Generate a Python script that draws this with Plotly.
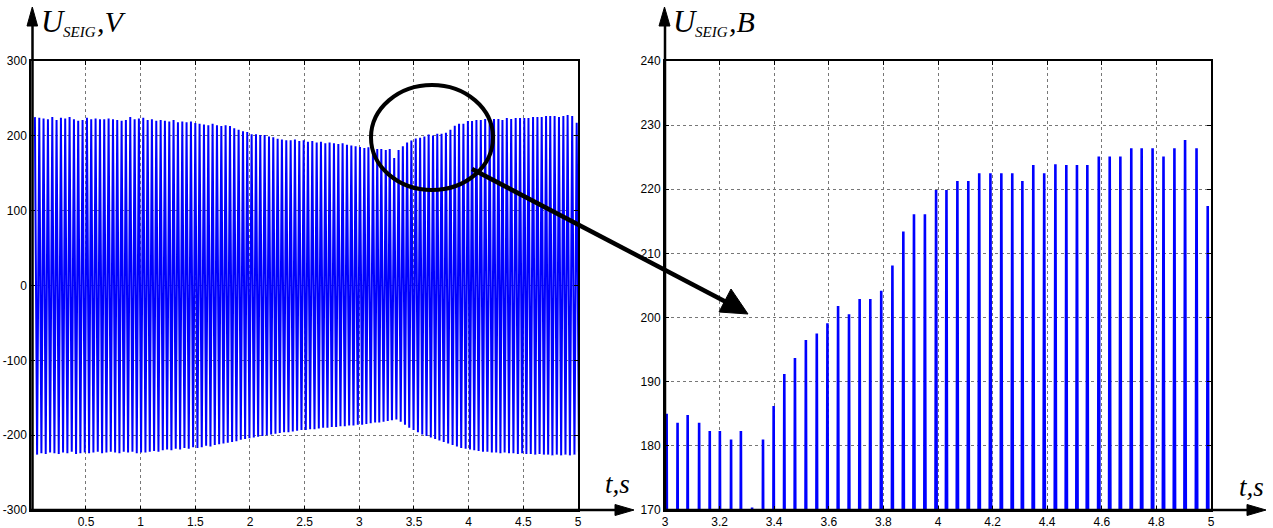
import plotly.graph_objects as go

# ---------------- data ----------------
# times of the positive peaks of U_SEIG (s)
peak_t = [
    0.033, 0.073, 0.112, 0.152, 0.192, 0.231, 0.271, 0.310, 0.350, 0.390,
    0.429, 0.469, 0.509, 0.548, 0.588, 0.628, 0.667, 0.707, 0.747, 0.786,
    0.826, 0.865, 0.905, 0.945, 0.984, 1.024, 1.064, 1.103, 1.143, 1.183,
    1.222, 1.262, 1.301, 1.341, 1.381, 1.420, 1.460, 1.500, 1.539, 1.579,
    1.619, 1.658, 1.698, 1.738, 1.777, 1.817, 1.856, 1.896, 1.936, 1.975,
    2.015, 2.055, 2.094, 2.134, 2.174, 2.213, 2.253, 2.292, 2.332, 2.372,
    2.411, 2.451, 2.491, 2.530, 2.570, 2.610, 2.649, 2.689, 2.728, 2.768,
    2.808, 2.847, 2.887, 2.927, 2.966,
    3.006, 3.046, 3.083, 3.125, 3.164, 3.201, 3.242, 3.278, 3.319, 3.359,
    3.398, 3.437, 3.476, 3.516, 3.556, 3.595, 3.634, 3.674, 3.713, 3.752,
    3.792, 3.833, 3.873, 3.912, 3.952, 3.993, 4.031, 4.071, 4.111, 4.151,
    4.192, 4.232, 4.272, 4.309, 4.349, 4.389, 4.430, 4.470, 4.509, 4.547,
    4.589, 4.629, 4.668, 4.708, 4.746, 4.786, 4.826, 4.866, 4.905, 4.947,
    4.988,
]
# positive peak values (V)
peak_v = [
    225, 224, 223, 222, 225, 221, 224, 223, 225, 222, 220, 221, 224,
    222, 223, 222, 222, 223, 222, 221, 220, 221, 225, 222, 223,
    224, 221, 222, 220, 221, 220, 219, 221, 218, 219, 218, 219, 217,
    216, 215, 214, 216, 214, 213, 214, 213, 210, 208, 206, 205,
    202, 202, 201, 201, 199, 198, 196, 195, 194, 194, 195, 193, 194,
    192, 193, 191, 192, 190, 191, 190, 189, 190, 188, 187, 186, 185,
    183.6, 184.8, 183.6, 182.3, 182.3, 181.0, 182.3, 170.4, 181.0, 186.2,
    191.2, 193.7, 196.5,
    197.5, 199.1, 201.8, 200.5, 202.9, 202.9, 204.2, 208.1, 213.4, 216.1,
    216.1, 219.9, 219.9,
    221.3, 221.3, 222.5, 222.5, 222.5, 222.5, 221.3, 223.8, 222.5, 223.9,
    223.8, 223.8, 223.8, 225.1, 225.1, 225.1, 226.4, 226.4, 226.4, 225.1,
    226.4, 227.7, 226.4, 217.4, 225.1,
]
# negative half-wave values following each peak (V)
trough_v = [
    -226, -224, -225, -223, -224, -225, -223, -224, -222, -225, -224, -223, -224,
    -223, -222, -224, -223, -222, -223, -224, -222, -223, -222, -224, -223,
    -223, -222, -221, -222, -220, -219, -220, -218, -219, -217, -218, -216, -217,
    -216, -214, -215, -213, -212, -211, -210, -209, -208, -206, -205, -204,
    -203, -202, -201, -200, -199, -198, -197, -196, -196, -195, -194, -193, -193,
    -192, -192, -191, -190, -190, -189, -189, -188, -188, -187, -187, -186, -186,
    -185, -184, -183, -183, -182, -181, -180, -179, -182, -186, -190, -193, -196,
    -199, -201, -203, -205, -207, -209, -211, -213, -215, -217, -218, -219, -220,
    -221, -222, -222, -223, -223, -224, -223, -224, -224, -225, -224, -225, -225,
    -226, -225, -226, -226, -227, -226, -227, -226, -227, -226, -222, -226,
]

left_xtick_vals = [0.5, 1, 1.5, 2, 2.5, 3, 3.5, 4, 4.5, 5]
left_xtick_text = ["0.5", "1", "1.5", "2", "2.5", "3", "3.5", "4", "4.5", "5"]
left_ytick_vals = [-300, -200, -100, 0, 100, 200, 300]
left_ytick_text = ["-300", "-200", "-100", "0", "100", "200", "300"]
right_xtick_vals = [3, 3.2, 3.4, 3.6, 3.8, 4, 4.2, 4.4, 4.6, 4.8, 5]
right_xtick_text = ["3", "3.2", "3.4", "3.6", "3.8", "4", "4.2", "4.4", "4.6", "4.8", "5"]
right_ytick_vals = [170, 180, 190, 200, 210, 220, 230, 240]
right_ytick_text = ["170", "180", "190", "200", "210", "220", "230", "240"]

# ---------------- build waveform ----------------
n = min(len(peak_t), len(peak_v), len(trough_v))
xs, ys = [], []
for i in range(n):
    t = peak_t[i]
    half = (peak_t[i + 1] - t) / 2 if i + 1 < n else (t - peak_t[i - 1]) / 2
    xs += [t, t + half]
    ys += [peak_v[i], trough_v[i]]

W, H = 1273, 528
def px(x):
    return x / W
def py(y):
    return 1 - y / H

BLUE = "#0000FF"
fig = go.Figure()
fig.add_trace(go.Scatter(x=xs, y=ys, mode="lines", line=dict(color=BLUE, width=2),
                         xaxis="x", yaxis="y", showlegend=False, hoverinfo="skip"))
fig.add_trace(go.Scatter(x=xs, y=ys, mode="lines", line=dict(color=BLUE, width=2.6),
                         xaxis="x2", yaxis="y2", showlegend=False, hoverinfo="skip"))

tickfont = dict(family="Liberation Sans, Arial, sans-serif", size=12, color="black")
common = dict(showgrid=True, gridcolor="#777777", gridwidth=1, griddash="dot",
              showline=True, linecolor="black", linewidth=2, mirror="ticks",
              ticks="inside", ticklen=4, tickcolor="black", tickwidth=1,
              zeroline=False, tickfont=tickfont, automargin=False, fixedrange=True)

ydom = [py(510), py(61)]
fig.update_layout(
    width=W, height=H,
    margin=dict(l=0, r=0, t=0, b=0),
    paper_bgcolor="white", plot_bgcolor="white",
    showlegend=False,
    xaxis=dict(domain=[px(31.3), px(578)], range=[0, 5], tickmode="array",
               tickvals=left_xtick_vals, ticktext=left_xtick_text, anchor="y", **common),
    yaxis=dict(domain=ydom, range=[-300, 300], tickmode="array",
               tickvals=left_ytick_vals, ticktext=left_ytick_text, anchor="x", **common),
    xaxis2=dict(domain=[px(665), px(1211)], range=[3, 5], tickmode="array",
                tickvals=right_xtick_vals, ticktext=right_xtick_text, anchor="y2", **common),
    yaxis2=dict(domain=ydom, range=[170, 240], tickmode="array",
                tickvals=right_ytick_vals, ticktext=right_ytick_text, anchor="x2", **common),
)

shapes = []
def line(x0, y0, x1, y1, w):
    shapes.append(dict(type="line", xref="paper", yref="paper",
                       x0=px(x0), y0=py(y0), x1=px(x1), y1=py(y1),
                       line=dict(color="black", width=w), layer="above"))
def tri(pts):
    d = "M " + " L ".join(f"{px(a)},{py(b)}" for a, b in pts) + " Z"
    shapes.append(dict(type="path", xref="paper", yref="paper", path=d,
                       fillcolor="black", line=dict(color="black", width=1), layer="above"))

# left chart axes with arrows
line(32.5, 511, 32.5, 22, 2.5)
tri([(32.3, 7), (27, 26), (37.6, 26)])
line(31, 510, 620, 510, 2.5)
tri([(634, 510), (615, 504.5), (615, 515.5)])
# right chart axes with arrows
line(665, 511, 665, 22, 2.5)
tri([(664.5, 7), (659, 26), (670, 26)])
line(664, 510, 1250, 510, 2.5)
tri([(1266, 510), (1247, 504.5), (1247, 515.5)])

# ellipse and zoom arrow
shapes.append(dict(type="circle", xref="paper", yref="paper",
                   x0=px(371), x1=px(493), y0=py(190), y1=py(85),
                   line=dict(color="black", width=4), layer="above"))
line(472, 169, 728, 303, 4.5)
tri([(748, 314), (719, 312), (731, 289)])
fig.update_layout(shapes=shapes)

serif = "Liberation Serif, Times New Roman, serif"
annotations = []
def txt(x, y, s, size, anchor="left"):
    annotations.append(dict(xref="paper", yref="paper", x=px(x), y=py(y), text=s,
                            showarrow=False, xanchor=anchor, yanchor="middle",
                            font=dict(family=serif, size=size, color="black")))

# axis titles
txt(39, 22, "<i>U</i>", 31)
txt(61, 32, "<i>SEIG</i>", 15)
txt(95, 22, "<i>,V</i>", 30)
txt(671, 22, "<i>U</i>", 31)
txt(693, 32, "<i>SEIG</i>", 15)
txt(727, 22, "<i>,B</i>", 30)
txt(603, 484, "<i>t,s</i>", 27)
txt(1237, 487, "<i>t,s</i>", 27)
fig.update_layout(annotations=annotations)

fig.write_html("out.html", config={"displayModeBar": False},
               post_script="document.body.style.margin='0';document.body.style.padding='0';")
